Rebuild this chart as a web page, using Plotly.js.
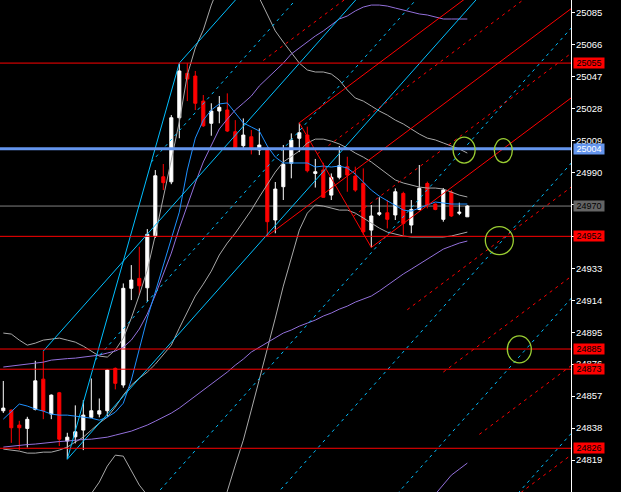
<!DOCTYPE html>
<html>
<head>
<meta charset="utf-8">
<script src="https://cdn.plot.ly/plotly-3.0.1.min.js"></script>
<style>
html,body{margin:0;padding:0;background:#000;overflow:hidden;}
#chart{width:621px;height:492px;}
</style>
</head>
<body>
<div id="chart"></div>
<script>
// ---------- data ----------
const candleIndex = [0,1,2,3,4,5,6,7,8,9,10,11,12,13,14,15,16,17,18,19,20,21,22,23,24,25,26,27,28,29,30,31,32,33,34,35,36,37,38,39,40,41,42,43,44,45,46,47,48,49,50,51,52,53,54,55,56,57,58];

const openPrices = [24848.3,24848.7,24839.8,24837.8,24849.1,24867.1,24846.3,24859.0,24830.3,24832.8,24836.8,24844.4,24846.3,24848.3,24873.5,24863.6,24921.1,24927.0,24921.4,24952.3,24987.4,24984.4,25022.5,25048.9,25047.3,25032.4,25019.2,25026.5,25027.1,25014.2,25005.9,25011.2,25003.3,25004.3,24961.7,24981.5,24995.4,25010.3,25012.2,24989.4,24991.4,24976.5,24987.1,24993.4,24987.8,24983.5,24955.7,24965.1,24966.0,24964.7,24977.5,24958.7,24968.0,24983.4,24971.2,24962.1,24978.3,24965.7,24963.6];
const highPrices = [24866.0,24849.0,24842.3,24844.7,24878.0,24883.8,24858.0,24859.5,24835.2,24851.5,24854.6,24867.5,24855.6,24873.0,24874.0,24924.0,24934.9,24945.8,24956.3,24991.4,24995.0,25024.1,25055.0,25054.9,25050.3,25036.0,25031.1,25035.4,25037.0,25021.1,25022.1,25015.2,25016.2,25005.0,24984.3,25006.3,25013.2,25019.5,25017.2,24998.0,24995.7,24989.4,25005.7,24999.3,24993.4,24992.4,24970.6,24975.2,24973.6,24980.5,24978.5,24973.6,24994.4,24984.5,24971.5,24980.7,24979.5,24972.0,24970.5];
const lowPrices = [24847.0,24829.2,24824.9,24826.5,24848.5,24843.3,24843.3,24827.3,24819.5,24828.9,24824.9,24844.0,24844.4,24844.7,24861.0,24862.0,24914.1,24917.1,24913.1,24951.0,24979.5,24983.0,25010.3,25032.4,25027.1,25017.0,25011.8,25019.2,25014.0,25004.0,25004.3,25000.7,25000.3,24952.2,24953.8,24973.6,24986.5,25002.1,24990.0,24981.0,24975.0,24973.6,24985.9,24978.5,24978.5,24952.7,24945.4,24964.1,24956.7,24961.7,24952.7,24953.8,24967.5,24968.6,24967.5,24960.7,24963.5,24964.6,24963.6];
const closePrices = [24849.9,24838.2,24838.2,24843.2,24866.1,24848.3,24857.6,24831.4,24832.6,24835.8,24845.7,24848.3,24848.3,24872.5,24864.6,24921.1,24926.0,24922.6,24953.2,24988.0,24983.9,25022.5,25050.3,25045.5,25031.1,25017.7,25026.5,25028.7,25014.6,25004.3,25012.2,25004.3,25006.3,24960.7,24980.1,24994.8,25009.2,25013.6,24991.0,24990.4,24975.2,24987.1,24994.0,24988.4,24979.5,24954.7,24964.1,24966.0,24962.1,24978.5,24959.7,24968.0,24980.5,24970.6,24968.0,24979.5,24964.1,24966.3,24970.0];

// fast moving average (blue)
const maFast = [24843.3,24847.5,24852.3,24851.1,24849.3,24848.1,24846.3,24845.7,24845.7,24845.1,24844.5,24843.9,24842.7,24844.5,24847.5,24852.8,24866.5,24884.4,24903.4,24918.9,24934.9,24951.6,24966.4,24991.4,25010.4,25021.1,25027.1,25030.7,25031.3,25025.3,25019.4,25017.0,25014.6,25005.7,24999.1,24995.6,24995.6,24995.6,24995.6,24993.2,24993.8,24993.2,24993.8,24992.6,24989.0,24984.3,24979.5,24975.9,24973.0,24970.6,24967.6,24967.0,24968.8,24970.6,24972.4,24971.8,24971.2,24971.2,24971.2];

// band lines (silver)
const bandUpper = [24894.5,24893.9,24890.3,24887.3,24888.5,24890.3,24890.9,24891.5,24890.3,24889.1,24886.7,24883.8,24880.8,24880.2,24884.4,24891.5,24903.4,24917.1,24931.9,24952.7,24975.9,24997.4,25020.0,25047.9,25064.0,25074.7,25089.5,25101.4,25110.3,25113.3,25110.3,25103.2,25093.7,25083.6,25074.1,25067.5,25061.6,25055.0,25050.9,25049.7,25049.7,25048.5,25044.9,25039.0,25034.2,25032.4,25029.5,25026.5,25024.1,25021.1,25018.8,25015.8,25012.8,25010.4,25009.3,25007.5,25005.7,25003.9,25001.5];
const bandMiddle = [24825.5,24824.9,24824.3,24823.1,24823.1,24823.7,24823.7,24824.9,24826.7,24829.7,24832.6,24836.8,24841.0,24844.5,24850.5,24857.6,24863.5,24867.7,24871.3,24876.0,24881.4,24887.3,24897.4,24907.0,24916.5,24923.6,24931.3,24940.9,24948.0,24953.9,24960.5,24967.6,24975.4,24982.5,24990.2,24996.2,24999.7,25002.7,25007.5,25009.8,25009.8,25008.6,25006.9,25004.5,25001.5,24999.1,24996.2,24992.6,24989.0,24985.5,24983.7,24982.5,24981.3,24980.7,24980.7,24980.1,24978.3,24976.5,24975.4];
const bandLower = [24759.5,24759.5,24762.5,24765.4,24768.4,24771.4,24774.4,24777.3,24783.3,24789.2,24792.2,24798.7,24805.9,24815.4,24821.9,24821.3,24813.0,24804.1,24798.1,24786.2,24771.4,24759.5,24747.6,24741.6,24738.7,24741.6,24753.5,24777.3,24800.5,24816.0,24830.8,24848.7,24866.5,24885.0,24903.4,24922.4,24939.7,24955.7,24965.8,24970.6,24970.0,24968.8,24967.6,24967.6,24965.8,24962.9,24959.9,24956.9,24954.5,24953.3,24952.2,24951.6,24951.6,24951.6,24951.6,24951.6,24952.2,24953.3,24954.5];

// slow band (purple)
const slowUpper = [24874.3,24874.9,24875.4,24876.0,24876.6,24877.2,24878.4,24879.0,24879.3,24879.6,24880.2,24880.8,24881.4,24882.6,24883.8,24886.1,24890.3,24896.9,24905.8,24917.1,24929.0,24942.0,24956.9,24970.6,24983.7,24996.2,25006.3,25015.8,25021.7,25027.1,25031.2,25035.4,25041.4,25046.1,25050.3,25055.0,25060.4,25064.0,25067.5,25071.1,25074.1,25077.6,25081.2,25083.0,25086.0,25088.3,25089.5,25089.5,25088.9,25087.7,25086.6,25085.4,25084.2,25083.6,25082.4,25081.2,25081.2,25081.2,25081.2];
const slowMiddle = [24826.7,24827.3,24827.9,24828.2,24828.5,24829.1,24829.7,24830.0,24830.3,24830.9,24831.2,24831.4,24832.0,24832.6,24833.8,24835.0,24836.2,24838.0,24839.8,24842.1,24844.5,24846.9,24849.9,24853.4,24857.0,24860.6,24864.1,24867.7,24871.3,24875.4,24879.0,24883.2,24886.1,24889.1,24892.1,24894.5,24896.3,24898.6,24900.4,24902.2,24904.6,24906.4,24908.7,24910.5,24912.9,24914.7,24916.5,24919.5,24923.0,24926.0,24929.6,24932.5,24935.5,24938.5,24941.5,24944.4,24946.2,24948.0,24949.2];
const slowLowerIndex = [54,55,56,57,58];
const slowLower = [24798.7,24804.1,24810.0,24813.6,24817.2];

// horizontal price levels
const levelPrices = [25055, 25004, 24970, 24952, 24885, 24873, 24826];
const levelKinds  = ['red','blue','bid','red','red','red','red'];

// Andrews pitchfork anchors (candle index, price)
const cyanForkIndex = [5, 8, 22];
const cyanForkPrice = [24883.8, 24819.5, 25055.0];
const redForkIndex  = [33, 37, 46];
const redForkPrice  = [24952.2, 25019.5, 24945.4];
const forkLevels = [-5, -4, -3, -2, -0.5, 0.5, 2, 3, 4, 5];

// marked spots (green circles)
const circleIndex = [57.6, 62.5, 62.0, 64.5];
const circlePrice = [25003.3, 25003.0, 24949.5, 24884.8];

// ---------- styling ----------
const RED = '#FF0000', CYAN = '#00BFFF', SILVER = '#A8A8A8', BLUEMA = '#1E90FF', PURPLE = '#9370DB';
const DOTS = '3px,4px';
const X_END = 80;
const circleSizes = [[22,26],[18,24],[28,28],[24,27]];
const FONT = 'Liberation Sans, Arial, sans-serif';

const traces = [];
traces.push({
  type: 'candlestick', x: candleIndex,
  open: openPrices, high: highPrices, low: lowPrices, close: closePrices,
  increasing: {line: {color: '#FFFFFF', width: 1}, fillcolor: '#FFFFFF'},
  decreasing: {line: {color: RED, width: 1}, fillcolor: RED},
  whiskerwidth: 0, hoverinfo: 'skip', showlegend: false
});

function lineTrace(x, y, color, dash) {
  return {type: 'scatter', mode: 'lines', x: x, y: y,
    line: {color: color, width: 1, dash: dash || 'solid'},
    hoverinfo: 'skip', showlegend: false};
}

traces.push(lineTrace(candleIndex, bandUpper, SILVER));
traces.push(lineTrace(candleIndex, bandMiddle, SILVER));
traces.push(lineTrace(candleIndex, bandLower, SILVER));
traces.push(lineTrace(candleIndex, slowUpper, PURPLE));
traces.push(lineTrace(candleIndex, slowMiddle, PURPLE));
traces.push(lineTrace(slowLowerIndex, slowLower, PURPLE));
traces.push(lineTrace(candleIndex, maFast, BLUEMA));

function addFork(idx, price, color) {
  const mi = (idx[1] + idx[2]) / 2, mp = (price[1] + price[2]) / 2;
  const slope = (mp - price[0]) / (mi - idx[0]);
  const ray = (si, sp, dash) => lineTrace([si, X_END], [sp, sp + slope * (X_END - si)], color, dash);
  traces.push(ray(idx[0], price[0], 'solid'));
  traces.push(ray(idx[1], price[1], 'solid'));
  traces.push(ray(idx[2], price[2], 'solid'));
  traces.push(lineTrace([idx[1], idx[2]], [price[1], price[2]], color, 'solid'));
  forkLevels.forEach(k => {
    const si = mi + k * (idx[2] - mi), sp = mp + k * (price[2] - mp);
    traces.push(ray(si, sp, DOTS));
  });
}
addFork(cyanForkIndex, cyanForkPrice, CYAN);
addFork(redForkIndex, redForkPrice, RED);

const shapes = [];
const annotations = [];
const kindStyle = {
  red:  {line: RED, width: 1, layer: 'above', bg: RED, fg: '#000000'},
  blue: {line: '#6495ED', width: 3, layer: 'above', bg: '#6495ED', fg: '#FFFFFF'},
  bid:  {line: '#808080', width: 1, layer: 'below', bg: '#646464', fg: '#000000'}
};
levelPrices.forEach((p, i) => {
  const st = kindStyle[levelKinds[i]];
  shapes.push({type: 'line', xref: 'paper', x0: 0, x1: 1, yref: 'y', y0: p, y1: p,
    line: {color: st.line, width: st.width}, layer: st.layer});
  annotations.push({xref: 'paper', x: 1, xanchor: 'left', xshift: 2,
    yref: 'y', y: p, yanchor: 'middle', text: String(p), showarrow: false,
    bgcolor: st.bg, font: {family: FONT, size: 9, color: st.fg},
    width: 30, height: 10, borderpad: 0, align: 'center', valign: 'middle'});
});
circleIndex.forEach((ci, i) => {
  const [w, h] = circleSizes[i];
  shapes.push({type: 'circle', xref: 'x', yref: 'y', xsizemode: 'pixel', ysizemode: 'pixel',
    xanchor: ci, yanchor: circlePrice[i], x0: -w / 2, x1: w / 2, y0: -h / 2, y1: h / 2,
    line: {color: '#9ACD32', width: 1.3}, layer: 'above'});
});

const layout = {
  width: 621, height: 492,
  margin: {l: 0, r: 50, t: 0, b: 0, pad: 0},
  paper_bgcolor: '#000000', plot_bgcolor: '#000000',
  showlegend: false, hovermode: false, boxgap: 0.45,
  xaxis: {range: [-0.4125, 70.96], visible: false, fixedrange: true, rangeslider: {visible: false}},
  yaxis: {range: [24800, 25092.5], side: 'right', tick0: 24800, dtick: 19, tickformat: 'd',
    showgrid: false, zeroline: false, showline: true, linecolor: '#FFFFFF', linewidth: 1,
    ticks: 'outside', ticklen: 3, tickcolor: '#FFFFFF', tickwidth: 1, ticklabelstandoff: -1,
    tickfont: {family: FONT, size: 9.5, color: '#FFFFFF'}, fixedrange: true},
  shapes: shapes, annotations: annotations
};

Plotly.newPlot('chart', traces, layout, {staticPlot: true, displayModeBar: false});
</script>
</body>
</html>
